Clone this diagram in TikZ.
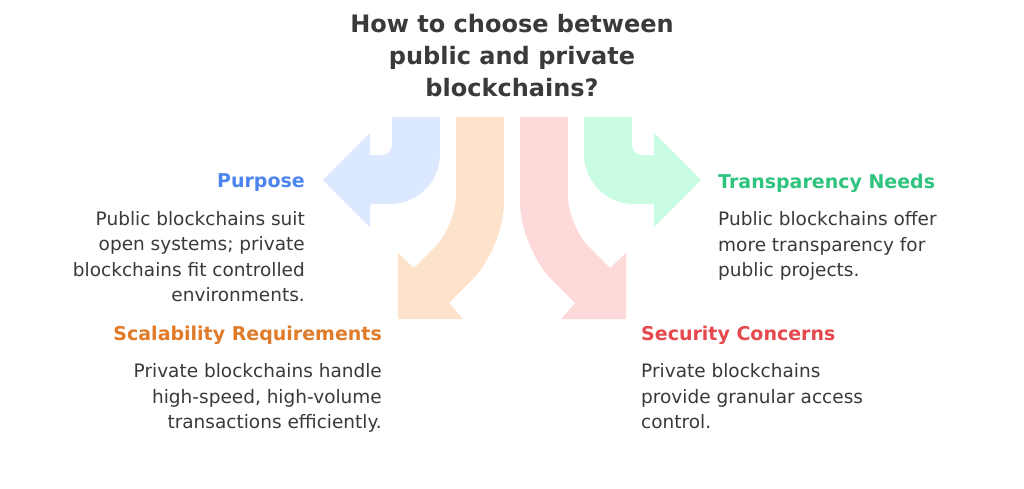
\documentclass[tikz,border=0pt]{standalone}
\usepackage{fontspec}
\setmainfont{DejaVu Sans}
\usetikzlibrary{positioning}
\definecolor{bluefill}{HTML}{DBE8FE}
\definecolor{bluetext}{HTML}{4C84F0}
\definecolor{orangefill}{HTML}{FDE3CC}
\definecolor{orangetext}{HTML}{E07B2A}
\definecolor{redfill}{HTML}{FDD9D9}
\definecolor{redtext}{HTML}{E5484D}
\definecolor{greenfill}{HTML}{C9FCE3}
\definecolor{greentext}{HTML}{2EC47D}
\definecolor{bodytext}{HTML}{3A3A3A}
\begin{document}
\begin{tikzpicture}[
    x=1pt, y=-1pt,
    heading/.style={font=\fontsize{24}{32}\selectfont\bfseries, text=bodytext, align=center},
    title/.style={font=\fontsize{19}{24}\selectfont\bfseries, inner sep=0pt},
    body/.style={font=\fontsize{18.5}{25.5}\selectfont, text=bodytext, inner sep=0pt},
]
    \useasboundingbox[fill=white] (0,0) rectangle (1024,488);

    % Arrows
    \fill[bluefill] (392,117) -- (440,117) [rounded corners=50] -- (440,204) [sharp corners] -- (370,204) -- (370,227) -- (323,180) -- (370,133) -- (370,155) [rounded corners=10] -- (392,155) [sharp corners] -- cycle;
    \fill[greenfill] (632,117) -- (584,117) [rounded corners=50] -- (584,204) [sharp corners] -- (654,204) -- (654,227) -- (701,180) -- (654,133) -- (654,155) [rounded corners=10] -- (632,155) [sharp corners] -- cycle;
    \fill[orangefill] (456,117) -- (504,117) [rounded corners=45] -- (504,248) [sharp corners] -- (449,303) -- (463,319) -- (398,319) -- (398,253) -- (414,268) [rounded corners=30] -- (456,226) [sharp corners] -- cycle;
    \fill[redfill] (568,117) -- (520,117) [rounded corners=45] -- (520,248) [sharp corners] -- (575,303) -- (561,319) -- (626,319) -- (626,253) -- (610,268) [rounded corners=30] -- (568,226) [sharp corners] -- cycle;

    % Heading
    \node[heading] (head) at (512,56) {How to choose between\\public and private\\blockchains?};

    % Labels
    \node[title, text=bluetext, anchor=east] (purpose) at (305,183) {Purpose};
    \node[body, align=right, below=19pt of purpose.south east, anchor=north east] (purposetxt) {Public blockchains suit\\open systems; private\\blockchains fit controlled\\environments.};
    \node[title, text=greentext, anchor=west] (transp) at (718,183) {Transparency Needs};
    \node[body, align=left, below=19pt of transp.south west, anchor=north west] (transptxt) {Public blockchains offer\\more transparency for\\public projects.};
    \node[title, text=orangetext, anchor=east] (scal) at (382,335) {Scalability Requirements};
    \node[body, align=right, below=19pt of scal.south east, anchor=north east] (scaltxt) {Private blockchains handle\\high-speed, high-volume\\transactions efficiently.};
    \node[title, text=redtext, anchor=west] (secur) at (641,335) {Security Concerns};
    \node[body, align=left, below=19pt of secur.south west, anchor=north west] (securtxt) {Private blockchains\\provide granular access\\control.};
\end{tikzpicture}
\end{document}
